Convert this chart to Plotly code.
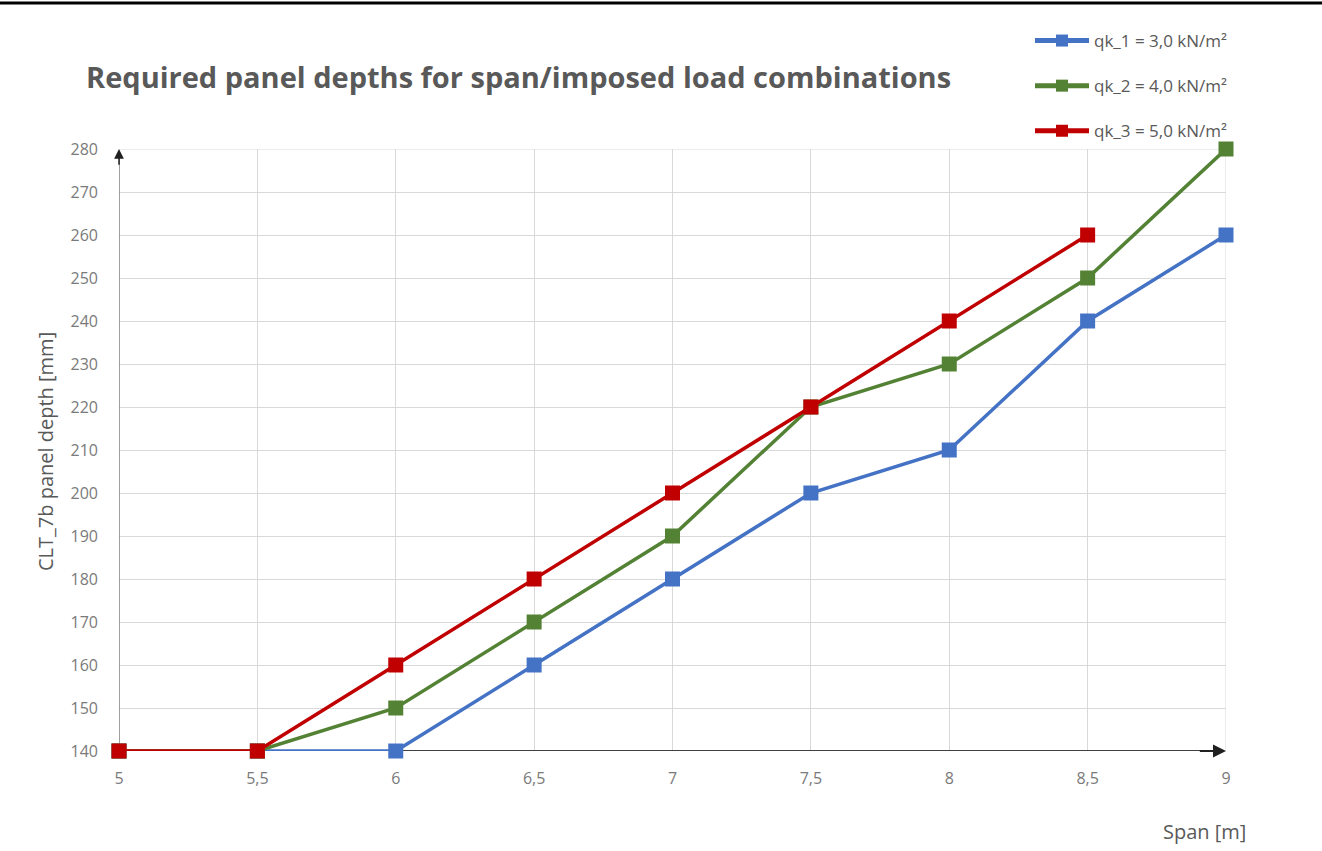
import plotly.graph_objects as go

# Spans [m] and required CLT panel depths [mm] per imposed load
spans = [5, 5.5, 6, 6.5, 7, 7.5, 8, 8.5, 9]
depth_qk1 = [140, 140, 140, 160, 180, 200, 210, 240, 260]
depth_qk2 = [140, 140, 150, 170, 190, 220, 230, 250, 280]
depth_qk3 = [140, 140, 160, 180, 200, 220, 240, 260, None]

series_names = ["qk_1 = 3,0 kN/m²", "qk_2 = 4,0 kN/m²", "qk_3 = 5,0 kN/m²"]
series_colors = ["#4472C4", "#548235", "#C00000"]

y_ticks = list(range(140, 290, 10))
x_ticks = spans

fig = go.Figure()
for i, (name, vals, col) in enumerate(zip(series_names, [depth_qk1, depth_qk2, depth_qk3], series_colors)):
    fig.add_trace(go.Scatter(
        x=spans, y=vals, name=name, mode="lines+markers",
        line=dict(color=col, width=3.5),
        marker=dict(symbol="square", size=15, color=col),
        cliponaxis=False, legendgroup=f"g{i}",
    ))

W, H = 1322, 851
L, R, T, B = 119, 96, 149, 100
pw = W - L - R
ph = H - T - B

def px_x(px):
    return (px - L) / pw

def px_y(px):
    return (H - B - px) / ph

fig.update_layout(
    width=W, height=H,
    margin=dict(l=L, r=R, t=T, b=B),
    paper_bgcolor="white", plot_bgcolor="white",
    separators=",.",
    font=dict(family="Open Sans", color="#595959", size=13),
    showlegend=True,
    legend=dict(
        x=px_x(1030), y=px_y(23), xanchor="left", yanchor="top",
        font=dict(size=17, color="#595959"),
        tracegroupgap=20, itemwidth=54, itemsizing="constant",
        bgcolor="rgba(0,0,0,0)",
    ),
    xaxis=dict(
        range=[5, 9], tickvals=x_ticks, showgrid=True, gridcolor="#d9d9d9", gridwidth=1,
        zeroline=False, showline=False, ticks="", ticklabelstandoff=16,
        tickfont=dict(size=16, color="#7a7a7a"),
    ),
    yaxis=dict(
        range=[140, 280], tickvals=y_ticks, showgrid=True, gridcolor="#d9d9d9", gridwidth=1,
        zeroline=False, showline=False, ticks="", ticklabelstandoff=20,
        tickfont=dict(size=16, color="#7a7a7a"),
    ),
)

# right and top borders of the grid
fig.add_shape(type="line", xref="x", yref="y", x0=9, x1=9, y0=140, y1=280,
              line=dict(color="#d9d9d9", width=1), layer="between")
fig.add_shape(type="line", xref="x", yref="y", x0=5, x1=9, y0=280, y1=280,
              line=dict(color="#d9d9d9", width=1), layer="between")

# axis lines with arrowheads
fig.add_shape(type="line", xref="x", yref="y", x0=5, x1=8.97, y0=140, y1=140,
              line=dict(color="#404040", width=2), layer="between")
fig.add_shape(type="line", xref="x", yref="y", x0=5, x1=5, y0=140, y1=278,
              line=dict(color="#7f7f7f", width=1.5), layer="between")
fig.add_annotation(x=9, y=140, ax=8.9, ay=140, xref="x", yref="y", axref="x", ayref="y",
                   showarrow=True, arrowhead=2, arrowsize=1.3, arrowwidth=2,
                   arrowcolor="#202020", text="")
fig.add_annotation(x=5, y=280, ax=5, ay=276, xref="x", yref="y", axref="x", ayref="y",
                   showarrow=True, arrowhead=2, arrowsize=1.3, arrowwidth=1.5,
                   arrowcolor="#202020", text="")

# chart title
fig.add_annotation(text="<b>Required panel depths for span/imposed load combinations</b>",
                   xref="paper", yref="paper", x=px_x(84), y=px_y(76),
                   xanchor="left", yanchor="middle", showarrow=False,
                   font=dict(size=29, color="#595959", family="Open Sans"))

# axis titles
fig.add_annotation(text="CLT_7b panel depth [mm]", xref="paper", yref="paper",
                   x=px_x(45), y=px_y(452), xanchor="center", yanchor="middle",
                   textangle=-90, showarrow=False, font=dict(size=20, color="#595959"))
fig.add_annotation(text="Span [m]", xref="paper", yref="paper",
                   x=px_x(1204), y=px_y(831), xanchor="center", yanchor="middle",
                   showarrow=False, font=dict(size=20, color="#595959"))

# top frame rule
fig.add_shape(type="line", xref="paper", yref="paper", x0=px_x(0), x1=px_x(W),
              y0=px_y(3), y1=px_y(3), line=dict(color="#000000", width=3))

fig.write_html("out.html")
